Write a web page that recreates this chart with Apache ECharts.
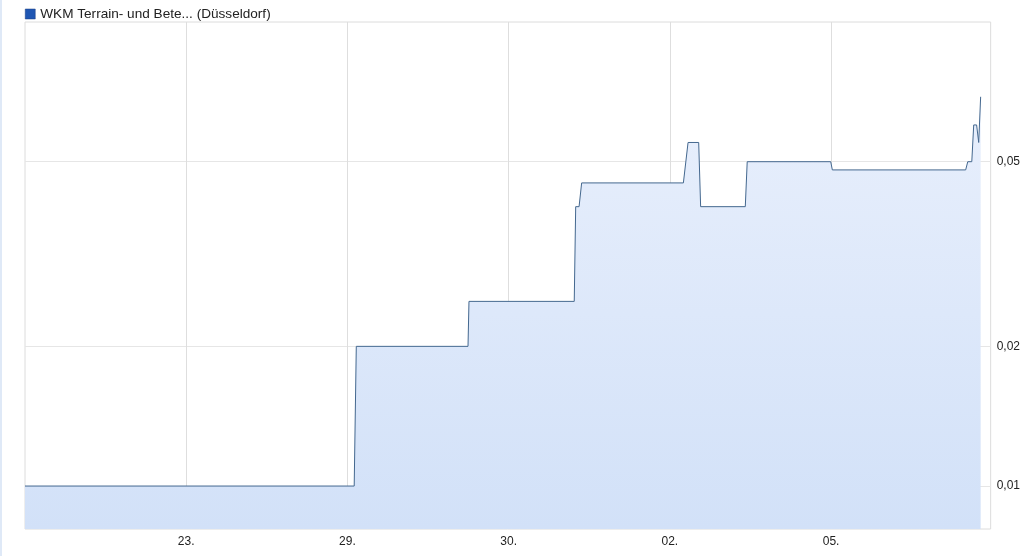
<!DOCTYPE html>
<html>
<head>
<meta charset="utf-8">
<script src="https://cdn.jsdelivr.net/npm/echarts@6/dist/echarts.min.js"></script>
<style>
  html, body { margin: 0; padding: 0; background: #fff; }
  #chart { position: absolute; left: 0; top: 0; width: 1023px; height: 556px; }
  #edge { position: absolute; left: 0; top: 0; width: 2px; height: 556px; background: #dfe9f7; }
</style>
</head>
<body>
<div id="chart"></div>
<div id="edge"></div>
<script>
// x position in trading-day units (0 = left edge of chart)
const timeIdx = [0, 2.042, 2.055, 2.748, 2.754, 3.407, 3.416, 3.437, 3.453, 4.084, 4.113, 4.179, 4.191, 4.468, 4.480, 4.998, 5.008, 5.835, 5.848, 5.873, 5.885, 5.903, 5.916, 5.928];
const prices = [0.01, 0.01, 0.02, 0.02, 0.025, 0.025, 0.04, 0.04, 0.045, 0.045, 0.055, 0.055, 0.04, 0.04, 0.05, 0.05, 0.048, 0.048, 0.05, 0.05, 0.06, 0.06, 0.055, 0.069];
const xTickPos = [1, 2, 3, 4, 5];
const xTickLabels = ['23.', '29.', '30.', '02.', '05.'];
const yTicks = [0.01, 0.02, 0.05];
const seriesName = 'WKM Terrain- und Bete... (Düsseldorf)';

const data = timeIdx.map((t, i) => [t, prices[i]]);

const chart = echarts.init(document.getElementById('chart'), null, { renderer: 'canvas' });
chart.setOption({
  animation: false,
  backgroundColor: '#fff',
  legend: {
    left: 25, top: 7,
    icon: 'rect', itemWidth: 10, itemHeight: 10, itemGap: 10,
    textStyle: { fontFamily: 'Liberation Sans, Arial, sans-serif', fontSize: 13.6, color: '#222', padding: [0, 0, 0, 0] },
    padding: 0,
    data: [{ name: seriesName, itemStyle: { color: '#1f56b3', borderColor: '#1a3f80', borderWidth: 0.5 } }]
  },
  grid: { left: 25, top: 22, right: 30, bottom: 27, show: true, borderColor: '#dcdcdc', borderWidth: 1, containLabel: false },
  xAxis: {
    type: 'value', min: 0, max: 5.99,
    axisLine: { show: false },
    axisTick: { show: false, customValues: xTickPos },
    axisLabel: {
      customValues: xTickPos,
      formatter: v => { const i = xTickPos.indexOf(Math.round(v)); return i >= 0 ? xTickLabels[i] : ''; },
      fontFamily: 'Liberation Sans, Arial, sans-serif', fontSize: 12, color: '#222', margin: 7
    },
    splitLine: { show: true, lineStyle: { color: '#dedede', width: 1 } }
  },
  yAxis: {
    type: 'log', logBase: 10, position: 'right',
    min: 0.00808, max: 0.1,
    axisLine: { show: false },
    axisTick: { show: false, customValues: yTicks },
    axisLabel: {
      customValues: yTicks,
      formatter: v => v.toFixed(2).replace('.', ','),
      fontFamily: 'Liberation Sans, Arial, sans-serif', fontSize: 12, color: '#222', margin: 6
    },
    splitLine: { show: true, lineStyle: { color: '#e6e6e6', width: 1 } }
  },
  series: [{
    name: seriesName,
    type: 'line',
    data: data,
    showSymbol: false,
    symbol: 'none',
    lineStyle: { color: '#44688f', width: 1 },
    itemStyle: { color: '#1f56b3' },
    areaStyle: {
      origin: 'start',
      opacity: 1,
      color: new echarts.graphic.LinearGradient(0, 0, 0, 1, [
        { offset: 0, color: '#e8effc' },
        { offset: 1, color: '#d2e1f8' }
      ])
    }
  }]
});
</script>
</body>
</html>
